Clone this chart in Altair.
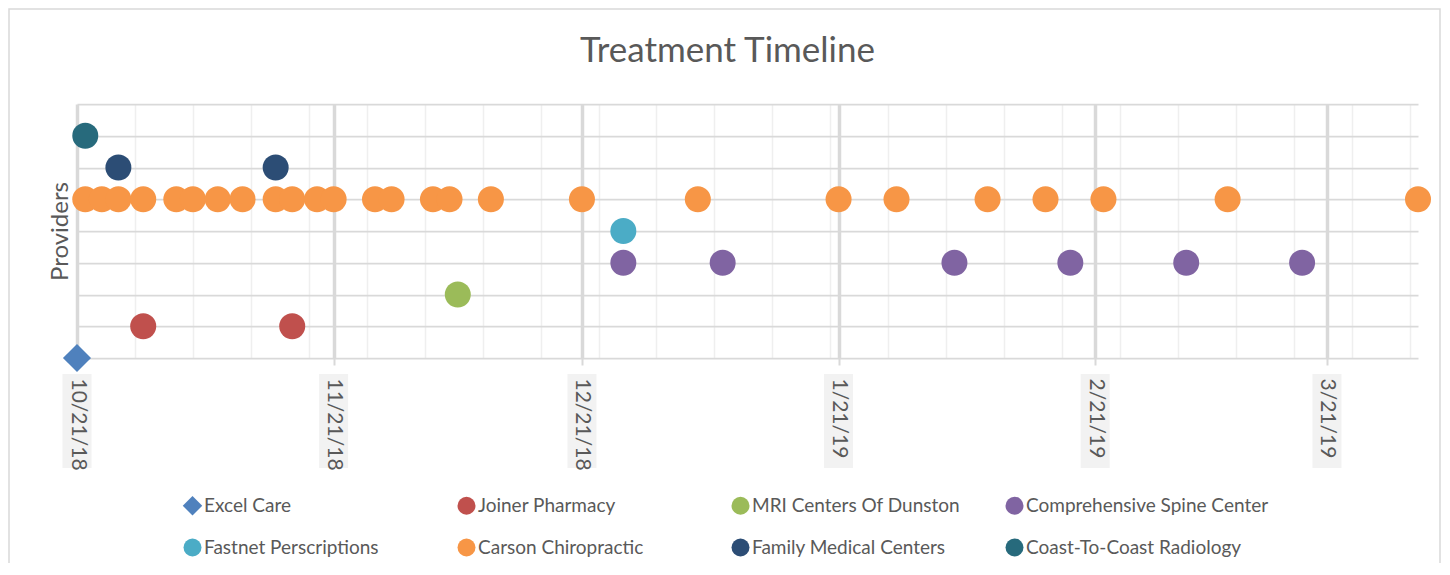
import altair as alt
import pandas as pd

# ---------------- data ----------------
providers = [
    "Excel Care", "Joiner Pharmacy", "MRI Centers Of Dunston", "Comprehensive Spine Center",
    "Fastnet Perscriptions", "Carson Chiropractic", "Family Medical Centers", "Coast-To-Coast Radiology",
]
levels = [0, 1, 2, 3, 4, 5, 6, 7]
colors = ["#4f81bd", "#c0504d", "#9bbb59", "#8064a2", "#4bacc6", "#f79646", "#2c4d75", "#276a7c"]
DIAMOND = "M-1.08,0L0,-1.08L1.08,0L0,1.08Z"
shapes = [DIAMOND, "circle", "circle", "circle", "circle", "circle", "circle", "circle"]

excel_care = ["2018-10-21"]
joiner = ["2018-10-29", "2018-11-16"]
mri = ["2018-12-06"]
spine = ["2018-12-26", "2019-01-07", "2019-02-04", "2019-02-18", "2019-03-04", "2019-03-18"]
fastnet = ["2018-12-26"]
carson = [
    "2018-10-22", "2018-10-24", "2018-10-26", "2018-10-29", "2018-11-02", "2018-11-04",
    "2018-11-07", "2018-11-10", "2018-11-14", "2018-11-16", "2018-11-19", "2018-11-21",
    "2018-11-26", "2018-11-28", "2018-12-03", "2018-12-05", "2018-12-10", "2018-12-21",
    "2019-01-04", "2019-01-21", "2019-01-28", "2019-02-08", "2019-02-15", "2019-02-22",
    "2019-03-09", "2019-04-01",
]
family = ["2018-10-26", "2018-11-14"]
coast = ["2018-10-22"]

series_dates = [excel_care, joiner, mri, spine, fastnet, carson, family, coast]

# axis tick positions
month_ticks = ["2018-10-21", "2018-11-21", "2018-12-21", "2019-01-21", "2019-02-21", "2019-03-21"]
week_ticks = [
    "2018-10-28", "2018-11-04", "2018-11-11", "2018-11-18", "2018-11-25", "2018-12-02",
    "2018-12-09", "2018-12-16", "2018-12-23", "2018-12-30", "2019-01-06", "2019-01-13",
    "2019-01-20", "2019-01-27", "2019-02-03", "2019-02-10", "2019-02-17", "2019-02-24",
    "2019-03-03", "2019-03-10", "2019-03-17", "2019-03-24", "2019-03-31",
]
x_min = "2018-10-21"
x_max = "2019-04-01"

# ---------------- tables ----------------
rows = []
for name, lvl, dates in zip(providers, levels, series_dates):
    for d in dates:
        rows.append({"provider": name, "level": lvl, "date": d})
points_df = pd.DataFrame(rows)
month_df = pd.DataFrame({"date": month_ticks})
week_df = pd.DataFrame({"date": week_ticks})


def dt(s):
    y, m, d = (int(v) for v in s.split("-"))
    return alt.DateTime(year=y, month=m, date=d, utc=True)


FONT = "Lato"
TXT = "#595959"
GRID = "#d9d9d9"

xscale = alt.Scale(type="utc", domain=[dt(x_min), dt(x_max)], nice=False, padding=0)

major_grid_axis = alt.Axis(
    values=[dt(s) for s in month_ticks], grid=True, gridColor=GRID, gridWidth=3.5,
    labels=False, ticks=True, tickColor=GRID, tickWidth=2, tickSize=7, domain=False,
    title=None, orient="bottom", zindex=0,
)
minor_grid_axis = alt.Axis(
    values=[dt(s) for s in week_ticks], grid=True, gridColor="#efefef", gridWidth=1.5,
    labels=False, ticks=False, domain=False, title=None, orient="bottom", zindex=0,
)
label_axis = alt.Axis(
    values=[dt(s) for s in month_ticks], grid=False, labels=True, ticks=False, domain=False,
    labelAngle=90, labelAlign="left", labelBaseline="middle", labelFont=FONT,
    labelFontSize=21, labelColor=TXT, labelPadding=20, format="%-m/%-d/%y",
    title=None, orient="bottom", zindex=1,
)

legend = alt.Legend(
    title=None, orient="none", direction="horizontal", legendX=106, legendY=392,
    columns=4, gridAlign="all", symbolSize=324, symbolStrokeWidth=0, symbolOpacity=1,
    labelFont=FONT, labelFontSize=19, labelColor=TXT, labelOffset=2, labelLimit=400,
    columnPadding=10, rowPadding=22, padding=0,
)

border = alt.Chart(pd.DataFrame({"a": [0]})).mark_rect(
    fillOpacity=0, stroke=GRID, strokeWidth=1.5
).encode(x=alt.value(-68), x2=alt.value(1363), y=alt.value(-95), y2=alt.value(700))

label_bg = alt.Chart(month_df).mark_bar(width=29, color="#f2f2f2").encode(
    x=alt.X("date:T", scale=xscale, axis=major_grid_axis),
    y=alt.value(270),
    y2=alt.value(364),
)

minor = alt.Chart(week_df).mark_point(opacity=0).encode(
    x=alt.X("date:T", scale=xscale, axis=minor_grid_axis),
)

pts = alt.Chart(points_df).mark_point(filled=True, size=676, opacity=1, strokeWidth=0).encode(
    x=alt.X("date:T", scale=xscale, axis=label_axis),
    y=alt.Y(
        "level:Q",
        scale=alt.Scale(domain=[0, 8], nice=False, zero=True),
        axis=alt.Axis(
            values=list(range(9)), grid=True, gridColor=GRID, gridWidth=1.75, labels=False,
            ticks=False, domain=False, title="Providers", titleFont=FONT, titleFontSize=24,
            titleFontWeight="normal", titleColor=TXT, titlePadding=5,
        ),
    ),
    color=alt.Color("provider:N", scale=alt.Scale(domain=providers, range=colors), legend=legend),
    shape=alt.Shape("provider:N", scale=alt.Scale(domain=providers, range=shapes), legend=legend),
    order=alt.Order("level:Q"),
)

chart = (
    alt.layer(border, label_bg, minor, pts)
    .resolve_axis(x="independent")
    .properties(
        width=1341,
        height=254,
        autosize=alt.AutoSizeParams(type="none"),
        padding={"left": 69, "top": 96, "right": 24, "bottom": 205},
        title=alt.TitleParams(
            text="Treatment Timeline", font=FONT, fontSize=35, fontWeight="normal",
            color=TXT, anchor="middle", frame="group", offset=-89, dx=-20,
            baseline="alphabetic",
        ),
    )
    .configure_view(stroke=None)
)

chart.save("out.html", embed_options={"renderer": "svg", "actions": False})
